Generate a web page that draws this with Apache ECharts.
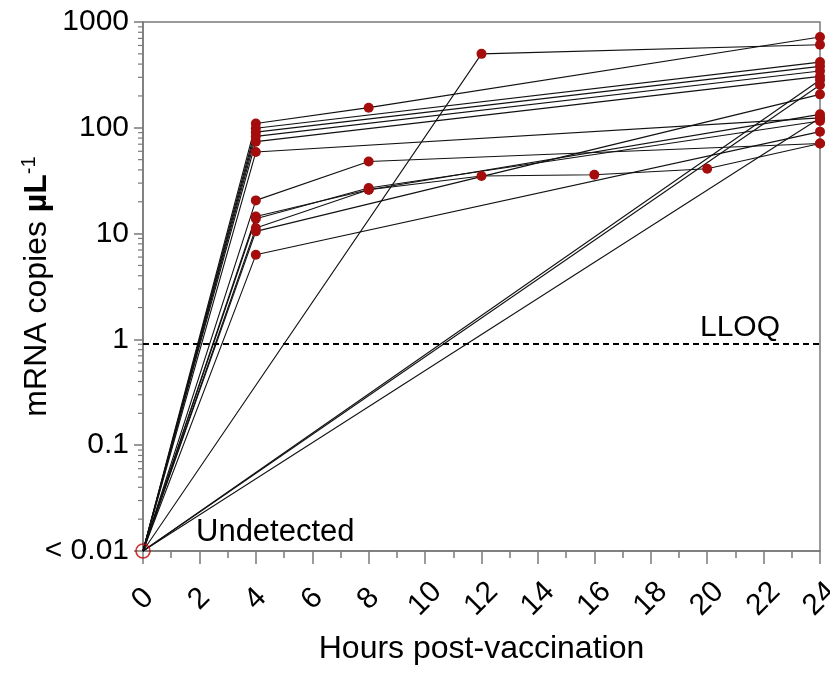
<!DOCTYPE html>
<html>
<head>
<meta charset="utf-8">
<script src="https://cdn.jsdelivr.net/npm/echarts@6/dist/echarts.min.js"></script>
<style>
  html, body { margin: 0; padding: 0; background: #fff; }
  #chart { width: 830px; height: 673px; }
</style>
</head>
<body>
<div id="chart"></div>
<script>
// sampling times (hours post-vaccination)
const hours = [0, 4, 8, 12, 16, 20, 24];
const undetected = 0.01;
const lloq = 0.9;

// one array per subject, values at each sampling time (null = not sampled)
const subjA = [undetected, 110, 155, null, null, null, 722];
const subjB = [undetected, 99, null, null, null, null, 418];
const subjC = [undetected, 91, null, null, null, null, 381];
const subjD = [undetected, 83, null, null, null, null, 344];
const subjE = [undetected, 74, null, null, null, null, 306];
const subjF = [undetected, 59, null, null, null, null, 124];
const subjG = [undetected, 20.6, 48, null, null, null, 71];
const subjH = [undetected, 14.5, 26, 35, 36, 41, 71];
const subjI = [undetected, 13.8, 27, null, null, null, 116];
const subjJ = [undetected, 11.3, 26, null, null, null, 134];
const subjK = [undetected, 10.5, null, null, null, null, 207];
const subjL = [undetected, 6.3, null, null, null, null, 92];
const subjM = [undetected, null, null, 500, null, null, 610];
const subjN = [undetected, null, null, null, null, null, 283];
const subjO = [undetected, null, null, null, null, null, 254];
const subjP = [undetected, null, null, null, null, null, 124];

const subjects = [subjA, subjB, subjC, subjD, subjE, subjF, subjG, subjH,
                  subjI, subjJ, subjK, subjL, subjM, subjN, subjO, subjP];

const yTickValues = [0.01, 0.1, 1, 10, 100, 1000];
const yTickLabels = ['< 0.01', '0.1', '1', '10', '100', '1000'];

// minor ticks of the log axis: 2..9 in every decade
const yMinorTicks = [];
for (let k = -2; k <= 2; k++) {
  for (let m = 2; m <= 9; m++) yMinorTicks.push(m * Math.pow(10, k));
}

const font = 'Liberation Sans, Arial, sans-serif';
const axisGrey = '#7a7a7a';
const dotRed = '#a50d0d';

const chart = echarts.init(document.getElementById('chart'));

const series = subjects.map(function (vals, si) {
  const data = [];
  vals.forEach(function (v, i) {
    if (v === null) return;
    if (i === 0) {
      data.push({ value: [hours[i], v], symbol: 'none' });
    } else {
      data.push([hours[i], v]);
    }
  });
  const s = {
    type: 'line',
    data: data,
    symbol: 'circle',
    symbolSize: 10,
    showSymbol: true,
    clip: false,
    z: 3,
    lineStyle: { color: '#111', width: 1.1 },
    itemStyle: { color: dotRed, borderWidth: 0 },
    emphasis: { disabled: true }
  };
  if (si === 0) {
    s.markLine = {
      silent: true,
      symbol: 'none',
      lineStyle: { color: '#000', type: [6, 4], width: 2 },
      label: {
        show: true,
        position: 'insideEndTop',
        formatter: 'LLOQ',
        color: '#000',
        fontFamily: font,
        fontSize: 30,
        distance: [40, 2]
      },
      data: [{ yAxis: lloq }]
    };
  }
  return s;
});

// hollow marker at the undetected origin
series.push({
  type: 'scatter',
  data: [[hours[0], undetected]],
  symbol: 'circle',
  symbolSize: 14,
  clip: false,
  z: 5,
  itemStyle: { color: 'rgba(0,0,0,0)', borderColor: '#c00000', borderWidth: 1.6 },
  emphasis: { disabled: true }
});

// log minor ticks on the y axis
series.push({
  type: 'custom',
  coordinateSystem: 'cartesian2d',
  data: yMinorTicks.map(function (v) { return [0, v]; }),
  encode: { x: 0, y: 1 },
  clip: false,
  silent: true,
  renderItem: function (params, api) {
    const p = api.coord([api.value(0), api.value(1)]);
    return {
      type: 'line',
      shape: { x1: p[0] - 5, y1: p[1], x2: p[0], y2: p[1] },
      style: { stroke: axisGrey, lineWidth: 1.2 }
    };
  }
});

chart.setOption({
  animation: false,
  grid: {
    left: 143, right: 10, top: 22, bottom: 122,
    outerBoundsMode: 'none',
    containLabel: false,
    show: true, borderColor: axisGrey, borderWidth: 1.5, backgroundColor: 'transparent'
  },
  xAxis: {
    type: 'value',
    min: 0, max: 24, interval: 2,
    name: 'Hours post-vaccination',
    nameLocation: 'middle',
    nameGap: 82,
    nameTextStyle: { color: '#000', fontSize: 32, fontFamily: font },
    axisLine: { lineStyle: { color: axisGrey, width: 1.5 } },
    axisTick: { length: 13, lineStyle: { color: axisGrey, width: 1.5 } },
    minorTick: { show: true, splitNumber: 2, length: 7, lineStyle: { color: axisGrey, width: 1.5 } },
    splitLine: { show: false },
    axisLabel: {
      rotate: 45,
      align: 'center',
      verticalAlign: 'middle',
      margin: 48,
      color: '#000',
      fontSize: 30,
      fontFamily: font
    }
  },
  yAxis: {
    type: 'log',
    logBase: 10,
    min: 0.01, max: 1000,
    name: '{a|mRNA copies }{b|µL}{c|-1}',
    nameLocation: 'middle',
    nameRotate: 90,
    nameGap: 88,
    nameMoveOverlap: false,
    nameTextStyle: {
      rich: {
        a: { fontSize: 32, fontFamily: font, color: '#000' },
        b: { fontSize: 32, fontFamily: font, fontWeight: 'bold', color: '#000' },
        c: { fontSize: 20, fontFamily: font, color: '#000', verticalAlign: 'top', padding: [0, 0, 16, 0] }
      }
    },
    axisLine: { show: true, lineStyle: { color: axisGrey, width: 1.5 } },
    axisTick: { show: true, length: 9, lineStyle: { color: axisGrey, width: 1.5 } },
    splitLine: { show: false },
    axisLabel: {
      margin: 14,
      color: '#000',
      fontSize: 30,
      fontFamily: font,
      formatter: function (v) {
        const e = Math.round(Math.log10(v));
        const idx = yTickValues.findIndex(function (t) { return Math.round(Math.log10(t)) === e; });
        return idx >= 0 ? yTickLabels[idx] : '';
      }
    }
  },
  graphic: [{
    type: 'text',
    left: 196,
    top: 517,
    style: { text: 'Undetected', fill: '#000', font: '31px ' + font }
  }],
  series: series
});
</script>
</body>
</html>
